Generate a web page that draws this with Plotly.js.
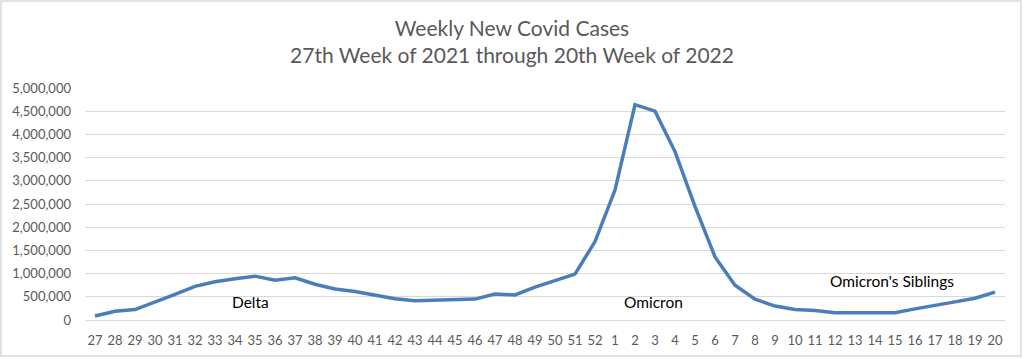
<!DOCTYPE html>
<html>
<head>
<meta charset="utf-8">
<script src="https://cdn.plot.ly/plotly-3.0.1.min.js"></script>
<style>
html,body{margin:0;padding:0;background:#fff;}
#chart{width:1024px;height:359px;}
</style>
</head>
<body>
<div id="chart"></div>
<script>
const weeks = ["27","28","29","30","31","32","33","34","35","36","37","38","39","40","41","42","43","44","45","46","47","48","49","50","51","52","1","2","3","4","5","6","7","8","9","10","11","12","13","14","15","16","17","18","19","20"];
const cases = [85000,190000,225000,380000,550000,725000,825000,890000,945000,855000,910000,770000,670000,615000,540000,460000,415000,430000,450000,450000,560000,540000,710000,860000,990000,1690000,2800000,4640000,4500000,3630000,2450000,1360000,750000,450000,300000,225000,205000,155000,155000,155000,155000,240000,310000,390000,470000,600000];
const yTickVals = [0,500000,1000000,1500000,2000000,2500000,3000000,3500000,4000000,4500000,5000000];
const yTickText = ["0","500,000","1,000,000","1,500,000","2,000,000","2,500,000","3,000,000","3,500,000","4,000,000","4,500,000","5,000,000"];
const labels = [
  {text:"Delta", x:7.75, y:395000},
  {text:"Omicron", x:27.9, y:390000},
  {text:"Omicron's Siblings", x:39.85, y:850000}
];
const FONT = "Lato, 'Open Sans', sans-serif";
const trace = {
  type:"scatter", mode:"lines", x:weeks, y:cases,
  line:{color:"#4a7ebb", width:3.5}, hoverinfo:"skip"
};
const layout = {
  width:1024, height:359,
  margin:{l:85, r:19, t:88, b:39},
  paper_bgcolor:"#ffffff", plot_bgcolor:"#ffffff",
  showlegend:false,
  title:{text:"Weekly New Covid Cases<br>27th Week of 2021 through 20th Week of 2022",
         x:0.5, xanchor:"center", yref:"container", y:1-36/359, yanchor:"middle",
         font:{family:FONT, size:21, color:"#595959"}},
  xaxis:{type:"category", range:[-0.5,45.5], showgrid:false, zeroline:false,
         showline:true, linecolor:"#d9d9d9", linewidth:1, ticks:"",
         ticklabelstandoff:8,
         tickfont:{family:FONT, size:13, color:"#595959"}, fixedrange:true},
  yaxis:{range:[0,5000000], tickvals:yTickVals, ticktext:yTickText,
         showgrid:true, gridcolor:"#d9d9d9", gridwidth:1, zeroline:false,
         showline:false, ticks:"", ticklen:0, ticklabelstandoff:13,
         tickfont:{family:FONT, size:13, color:"#595959"}, fixedrange:true},
  annotations: labels.map(a => ({text:a.text, x:a.x, y:a.y, xref:"x", yref:"y",
      showarrow:false, font:{family:FONT, size:15.5, color:"#000000"}})),
  shapes:[{type:"rect", xref:"paper", yref:"paper",
    x0:(1-85)/920, x1:(1021-85)/920, y0:(320-356)/232, y1:(320-1)/232,
    line:{color:"#d9d9d9", width:1.5}, fillcolor:"rgba(0,0,0,0)", layer:"below"}]
};
Plotly.newPlot("chart",[trace],layout,{displayModeBar:false, staticPlot:true});
</script>
</body>
</html>
